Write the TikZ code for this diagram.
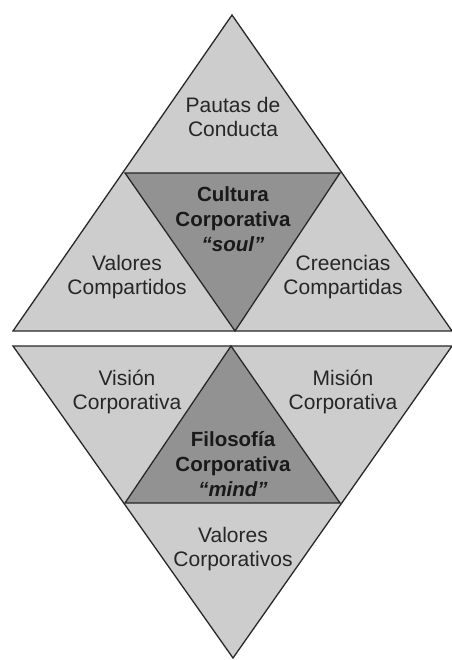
\documentclass[tikz,border=0pt]{standalone}
\usepackage{fontspec}
\setmainfont{Liberation Sans}
\definecolor{lightg}{RGB}{205,205,205}
\definecolor{darkg}{RGB}{146,146,146}
\definecolor{edge}{RGB}{40,40,40}
\tikzset{
  tri/.style={draw=edge, line width=1.3pt, line join=miter},
  lightfill/.style={tri, fill=lightg},
  darkfill/.style={tri, fill=darkg},
  lbl/.style={align=center, font=\fontsize{21}{24}\selectfont, text=black!85},
  blbl/.style={align=center, font=\fontsize{20.5}{25}\selectfont\bfseries, text=black!90}
}
\begin{document}
\begin{tikzpicture}[x=1pt,y=-1pt]
\useasboundingbox (0,0) rectangle (451,660);
% upper triangle
\coordinate (ta) at (232,15);
\coordinate (tl) at (13,331);
\coordinate (tr) at (452,331);
\coordinate (tml) at (125,173);
\coordinate (tmr) at (340,173);
\coordinate (tmb) at (235,331);
\fill[lightg] (ta) -- (tl) -- (tr) -- cycle;
\draw[darkfill] (tml) -- (tmr) -- (tmb) -- cycle;
\draw[tri] (ta) -- (tl) -- (tr) -- cycle;
% lower triangle
\coordinate (bl) at (13,346);
\coordinate (br) at (452,346);
\coordinate (ba) at (233,658);
\coordinate (bml) at (125,503);
\coordinate (bmr) at (340,503);
\coordinate (bmt) at (231,346);
\fill[lightg] (bl) -- (br) -- (ba) -- cycle;
\draw[darkfill] (bml) -- (bmr) -- (bmt) -- cycle;
\draw[tri] (bl) -- (br) -- (ba) -- cycle;
% labels
\node[lbl] (pautas) at (233,117) {Pautas de\\Conducta};
\node[blbl] (cultura) at (233,219) {Cultura\\Corporativa\\\textit{``soul''}};
\node[lbl] (valcomp) at (127,277) {Valores\\Compartidos};
\node[lbl] (creencias) at (343,277) {Creencias\\Compartidas};
\node[lbl] (vision) at (127,392) {Visión\\Corporativa};
\node[lbl] (mision) at (343,392) {Misión\\Corporativa};
\node[blbl] (filosofia) at (233,464) {Filosofía\\Corporativa\\\textit{``mind''}};
\node[lbl] (valcorp) at (233,549) {Valores\\Corporativos};
\end{tikzpicture}
\end{document}
